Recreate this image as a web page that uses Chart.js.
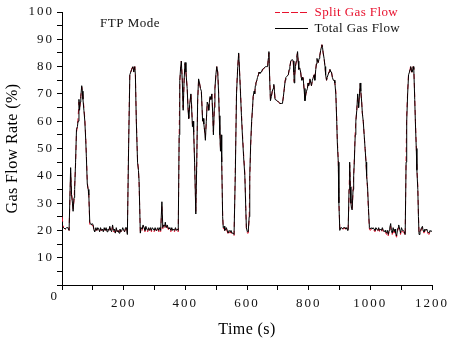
<!DOCTYPE html>
<html>
<head>
<meta charset="utf-8">
<script src="https://cdn.jsdelivr.net/npm/chart.js@4/dist/chart.umd.min.js"></script>
<style>
  html, body { margin: 0; padding: 0; background: #fff; }
  #wrap { width: 453px; height: 343px; position: relative; }
</style>
</head>
<body>
<div id="wrap"><canvas id="flow-chart"></canvas></div>
<script>
// time axis (s), shared by both series
var times = [
  0, 5, 10, 15, 19, 23, 28, 31, 34, 36, 39, 41, 44, 47, 50, 52, 55, 57, 59, 61, 64, 66, 68, 71, 74, 77, 79, 82, 85, 87, 90, 93, 95, 98, 101, 104, 106,
  110, 113, 116, 119, 122, 125, 128, 131, 134, 137, 140, 143, 146, 149, 152, 155, 158, 161, 164, 167, 170, 173, 176, 179, 182, 185, 188, 191, 194, 197, 200, 203, 206, 209, 212,
  216, 220, 223, 226, 230, 233, 236, 238, 241, 245, 248, 250, 254,
  257, 260, 263, 266, 269, 272, 275, 278, 281, 284, 287, 290, 293, 296, 299, 302, 305, 308, 311, 314, 317, 320, 324, 327, 330, 333,
  335, 338, 341, 344, 347, 350, 353, 356, 359, 362, 365, 368, 371, 374, 377,
  380, 382, 385, 387, 390, 393, 396, 399, 402, 406, 409, 411, 414, 418, 420, 423, 425, 427, 430, 434, 437, 440, 443, 446, 449,
  452, 456, 458, 460, 463, 465, 468, 471, 474, 476, 478, 480, 483, 486, 489, 491, 494, 496, 499, 502, 505, 508, 510, 512, 514,
  516, 518, 521, 523, 526, 528, 531, 533, 536, 539, 542, 545, 548, 551, 555, 558,
  562, 566, 570, 573, 576, 579, 582, 585, 589, 593, 596, 598, 601, 604, 607, 609, 612, 615, 618, 620, 623, 625, 627, 629, 632,
  634, 637, 639, 642, 645, 647, 650, 652, 656, 660, 664, 667, 669, 671, 674, 676, 679, 682, 685, 687, 689, 691, 694, 698, 702,
  707, 711, 715, 718, 721, 724, 726, 730, 734, 737, 739, 742, 745, 748, 750, 752, 753, 755, 757, 760, 762, 764, 766, 768, 771,
  774, 776, 778, 780, 782, 785, 788, 791, 793, 796, 798, 800, 802, 804, 807, 809, 812, 815, 818, 820, 823, 825, 827, 829, 831,
  834, 836, 839, 841, 843, 845, 847, 850, 853, 855, 858, 860, 863, 866, 869, 872, 874, 877, 880, 883, 885, 888, 891, 893, 896,
  898, 901, 904, 907, 910, 913, 916, 918, 921, 924, 926, 928,
  931, 933, 935, 937, 939, 941, 944, 946, 948, 951, 953, 956, 959, 961, 962, 965, 967, 969, 972, 974, 977, 980, 983, 986, 988,
  991, 994, 997,
  1000, 1003, 1006, 1009, 1012, 1015, 1018, 1021, 1024, 1027, 1030, 1033, 1036, 1039, 1042, 1045, 1048, 1050, 1053, 1056,
  1058, 1061, 1063, 1066, 1068, 1071, 1074, 1077, 1080, 1082, 1085, 1088, 1090, 1092, 1095, 1098, 1101, 1104, 1107, 1110, 1113,
  1116, 1118, 1121, 1124, 1127, 1129, 1131, 1134, 1136, 1139, 1141, 1144, 1146, 1149, 1151, 1154, 1156, 1158, 1161, 1163,
  1166, 1169, 1171, 1174, 1177, 1180, 1183, 1186, 1190, 1194, 1197, 1200
];

// Total Gas Flow (%)
var totalFlow = [
  21, 21, 20.5, 21, 21, 20, 43, 33, 30, 27, 32, 35, 45, 57, 58, 60, 68, 64, 67, 69, 73, 71, 68, 64, 60, 53, 47, 37, 35, 33, 23, 22.5, 22, 22.5, 22, 20, 19.5,
  21, 20, 21, 20.5, 19.5, 21, 20, 20.5, 19.5, 21, 20, 21, 19.5, 20.5, 20, 21.5, 20, 19.5, 22, 20, 20.5, 19, 21, 19.5, 20, 19, 20.5, 19.5, 20, 21, 20, 19.5, 21, 21, 18.5,
  50, 77, 78, 79, 80, 78, 80, 77, 60, 45, 42, 38, 19,
  21, 20.5, 22, 21, 20, 21.5, 20.5, 20, 21, 20, 21, 20, 21, 20.5, 20, 21, 20, 20.5, 21, 20, 21, 20, 30.5, 21, 22, 21.5,
  23, 21, 22, 21, 20.5, 21, 20, 21, 20, 20.5, 20, 21, 20, 20.5, 20,
  55, 75, 80, 82, 75, 64, 75, 81.5, 78, 72, 64, 61, 66, 70, 66, 58, 60, 56, 45, 26, 45, 68, 75.5, 74, 72,
  71, 60, 61, 59, 56, 53, 60, 67, 66, 64, 67, 69, 68, 70, 62, 55, 65, 72, 77, 80, 78, 70, 62, 55, 49,
  55, 45, 25, 21, 21.5, 20, 20.5, 21, 20, 19, 20, 19.5, 20, 19, 19, 18.5,
  40, 70, 80, 85, 78, 70, 62, 55, 47, 40, 28, 21, 19.5, 19.5, 25, 40, 52, 60, 65, 69, 71, 70, 73, 74, 75,
  76, 77, 78, 77.5, 78, 78, 79, 79, 79.5, 80, 80, 80, 83, 85.5, 74, 67.5, 69, 71, 72, 73.5, 71, 68, 68, 67.5, 67,
  66.5, 66.5, 66.5, 69, 72, 75, 76, 76.5, 77, 79, 80, 82, 82.5, 82.5, 82, 78, 74, 77, 80, 82, 84, 85.5, 82, 79, 79.5,
  78, 76, 75, 76, 76, 72, 67.5, 70, 71, 72, 74, 73, 74, 75.5, 74, 73, 75, 76, 77, 75, 79, 81, 83, 82, 81.5,
  83, 84, 86, 87, 88, 87, 85, 83, 80, 77, 75, 76, 77, 78, 79, 78, 78, 76, 75, 75, 74, 70, 60, 52, 45,
  30, 20, 21, 21, 20.5, 21, 21, 21, 20.5, 21, 20, 20,
  35, 45, 36, 30, 28, 27.5, 35, 40, 45, 55, 60, 64, 70, 67, 65, 70, 74, 71, 67, 63, 60, 55, 50, 45, 40,
  36, 28, 21,
  20.5, 21, 20.5, 21, 20.5, 20, 21, 20.5, 20, 21, 20, 20.5, 20, 21, 20, 19.5, 20, 19.5, 19, 20,
  18.5, 20, 21, 22.5, 20, 19, 21, 19.5, 20.5, 19, 18, 20, 21, 22, 20.5, 19, 21, 20, 20, 19.5, 18.5,
  45, 60, 70, 77, 78, 79, 80, 78, 78, 80, 79, 68, 60, 50, 42, 35, 25, 18.5, 19.5, 20,
  21, 21.5, 20, 19.5, 20.5, 20, 20.5, 19.5, 19, 20, 19.5, 20
];

// Split Gas Flow (%)
var splitFlow = [
  25, 21, 20.5, 20.5, 21, 20, 41, 34, 30, 28, 31, 36, 44, 56, 58, 61, 67, 65, 66, 69, 72.5, 71, 69, 65, 61, 54, 48, 38, 34, 33, 22, 22, 21.5, 22, 21.5, 20, 19.5,
  20.5, 20, 20.5, 20, 19.5, 20.5, 20, 20, 19.5, 20.5, 20, 20.5, 19.5, 20, 20, 21, 20, 19.5, 21.5, 19.5, 20, 19, 20.5, 19.5, 20, 19, 20, 19.5, 20, 20.5, 20, 19.5, 20.5, 20.5, 19,
  52, 78, 78, 79, 80.5, 78, 80, 77, 61, 46, 42, 37, 19.5,
  20.5, 20, 21.5, 20.5, 19.5, 21, 20, 19.5, 20.5, 19.5, 20.5, 19.5, 20.5, 20, 19.5, 20.5, 19.5, 20, 20.5, 19.5, 20.5, 19.5, 29, 20.5, 21.5, 21,
  22, 20.5, 21.5, 20.5, 20, 20.5, 19.5, 20.5, 19.5, 20, 19.5, 20.5, 19.5, 20, 19.5,
  54, 74, 80, 82, 76, 65, 74, 81, 78, 72, 65, 61, 65, 70, 67, 59, 59, 57, 46, 27, 44, 67, 75, 74, 72,
  70.5, 61, 60, 59, 56, 54, 60, 66, 66, 65, 67, 68.5, 68, 70, 63, 56, 64, 72, 76, 80, 78, 71, 63, 56, 50,
  54, 46, 26, 20.5, 21, 19.5, 20, 20.5, 19.5, 18.5, 19.5, 19, 19.5, 18.5, 18.5, 18,
  42, 71, 80, 84.5, 78, 71, 63, 56, 48, 41, 29, 20.5, 19, 19, 24, 39, 51, 59, 65, 69, 70.5, 70, 72.5, 74, 75,
  76, 77, 78, 77.5, 78, 78, 78.5, 79, 79.5, 80, 80, 80, 83, 85, 74.5, 68, 69, 71, 72, 73, 71, 68, 67.5, 67.5, 67,
  66.5, 66.5, 66.5, 69, 72, 75, 76, 76.5, 77, 79, 80, 82, 82, 82.5, 81.5, 78, 74.5, 77, 80, 82, 84, 85, 82, 79, 79.5,
  78, 76, 75, 76, 76, 72, 68, 70, 71, 72, 74, 73, 74, 75, 74, 73, 75, 76, 77, 75.5, 79, 81, 82.5, 82, 81.5,
  83, 84, 86, 87, 88, 87, 85, 83, 80, 77.5, 75, 76, 77, 78, 79, 78, 78, 76, 75, 75, 74, 71, 61, 53, 46,
  31, 20.5, 20.5, 21, 20.5, 20.5, 21, 20.5, 20.5, 20.5, 20, 20,
  33, 44, 37, 31, 28.5, 28, 34, 40, 46, 56, 60, 64, 69, 67, 65.5, 70, 73.5, 71, 67, 63, 60, 55, 50, 45, 40,
  35, 27, 20.5,
  20, 20.5, 20, 20.5, 20, 19.5, 20.5, 20, 19.5, 20.5, 19.5, 20, 19.5, 20.5, 19.5, 19, 19.5, 19, 18.5, 19.5,
  18, 19.5, 20.5, 21.5, 19.5, 18.5, 20.5, 19, 20, 18.5, 17.5, 19.5, 20.5, 21, 20, 18.5, 20.5, 19.5, 19.5, 19, 18,
  47, 62, 71, 77.5, 78, 79, 80.5, 78, 78, 80, 79.5, 69, 61, 51, 43, 36, 26, 19, 19, 19.5,
  20.5, 21, 19.5, 19, 20, 19.5, 20, 19, 18.5, 19.5, 19, 19.5
];

var seriesNames = ['Split Gas Flow', 'Total Gas Flow'];
var xLabelTicks = [200, 400, 600, 800, 1000, 1200];
var yLabelTicks = [10, 20, 30, 40, 50, 60, 70, 80, 90, 100];

function toPoints(values) {
  return times.map(function(t, i) { return { x: t, y: values[i] }; });
}

var RED = '#e8112d';

// tick labels are drawn after the lines (ticks z:1), with wide letter spacing
var annotations = {
  id: 'annotations',
  afterLayout: function(chart) {
    var lg = chart.legend;
    var area = chart.chartArea;
    lg.left = area.left + 210;
    lg.right = lg.left + lg.width;
    lg.top = 3;
  },
  beforeDraw: function(chart) {
    chart.ctx.letterSpacing = '0.4px';
  },
  afterDatasetsDraw: function(chart) {
    chart.ctx.letterSpacing = '2px';
  },
  afterDraw: function(chart) {
    var ctx = chart.ctx;
    var area = chart.chartArea;
    ctx.save();
    ctx.letterSpacing = '0.5px';
    ctx.fillStyle = '#111';
    ctx.font = "13px 'Liberation Serif'";
    ctx.textBaseline = 'middle';
    ctx.textAlign = 'left';
    ctx.fillText('FTP Mode', area.left + 38, area.top + 12);
    ctx.textAlign = 'center';
    ctx.fillText('0', area.left - 8, area.bottom + 12);
    ctx.restore();
    ctx.letterSpacing = '0px';
  }
};

function createFlowChart() {
  var ctx = document.getElementById('flow-chart').getContext('2d');
  Chart.defaults.font.family = "'Liberation Serif', serif";
  Chart.defaults.color = '#111';

  new Chart(ctx, {
    type: 'line',
    data: {
      datasets: [{
        label: seriesNames[0],
        data: toPoints(splitFlow),
        borderColor: RED,
        backgroundColor: RED,
        borderWidth: 1,
        borderDash: [5, 4],
        pointRadius: 0,
        order: 2
      }, {
        label: seriesNames[1],
        data: toPoints(totalFlow),
        borderColor: '#000',
        backgroundColor: '#000',
        borderWidth: 1,
        pointRadius: 0,
        order: 1
      }]
    },
    options: {
      responsive: true,
      maintainAspectRatio: false,
      animation: false,
      layout: { padding: { left: 0, right: 21, top: 12, bottom: 0 } },
      plugins: {
        tooltip: { enabled: false },
        legend: {
          position: 'chartArea',
          align: 'start',
          labels: {
            font: { size: 13 },
            boxWidth: 33,
            boxHeight: 0,
            padding: 3,
            sort: function(a, b) { return a.datasetIndex - b.datasetIndex; },
            generateLabels: function(chart) {
              var items = Chart.defaults.plugins.legend.labels.generateLabels(chart);
              items.forEach(function(it) {
                it.fontColor = it.datasetIndex === 0 ? RED : '#111';
                it.strokeStyle = it.datasetIndex === 0 ? RED : '#000';
                it.lineWidth = 1;
              });
              return items;
            }
          }
        }
      },
      scales: {
        x: {
          type: 'linear',
          min: 0,
          max: 1200,
          afterFit: function(scale) { scale.height = 58; },
          border: { color: '#000', width: 1 },
          grid: { drawOnChartArea: false, drawTicks: true, tickLength: 5, color: '#000' },
          ticks: {
            stepSize: 100,
            autoSkip: false,
            maxRotation: 0,
            padding: 6,
            z: 1,
            font: { size: 13 },
            color: '#111',
            callback: function(v) { return xLabelTicks.indexOf(v) >= 0 ? String(v) : ''; }
          },
          title: {
            display: true,
            text: 'Time (s)',
            font: { size: 16 },
            color: '#000',
            padding: { top: 0, bottom: 4 }
          }
        },
        y: {
          min: 0,
          max: 100,
          afterFit: function(scale) { scale.width = 62; },
          border: { color: '#000', width: 1 },
          grid: { drawOnChartArea: false, drawTicks: true, tickLength: 5, color: '#000' },
          ticks: {
            stepSize: 5,
            autoSkip: false,
            padding: 3,
            z: 1,
            font: { size: 13 },
            color: '#111',
            callback: function(v) { return yLabelTicks.indexOf(v) >= 0 ? String(v) : ''; }
          },
          title: {
            display: true,
            text: 'Gas Flow Rate (%)',
            font: { size: 16 },
            color: '#000',
            padding: { top: 3, bottom: 0 }
          }
        }
      }
    },
    plugins: [annotations]
  });
}

window.addEventListener('load', function() {
  createFlowChart();
});
</script>
</body>
</html>
